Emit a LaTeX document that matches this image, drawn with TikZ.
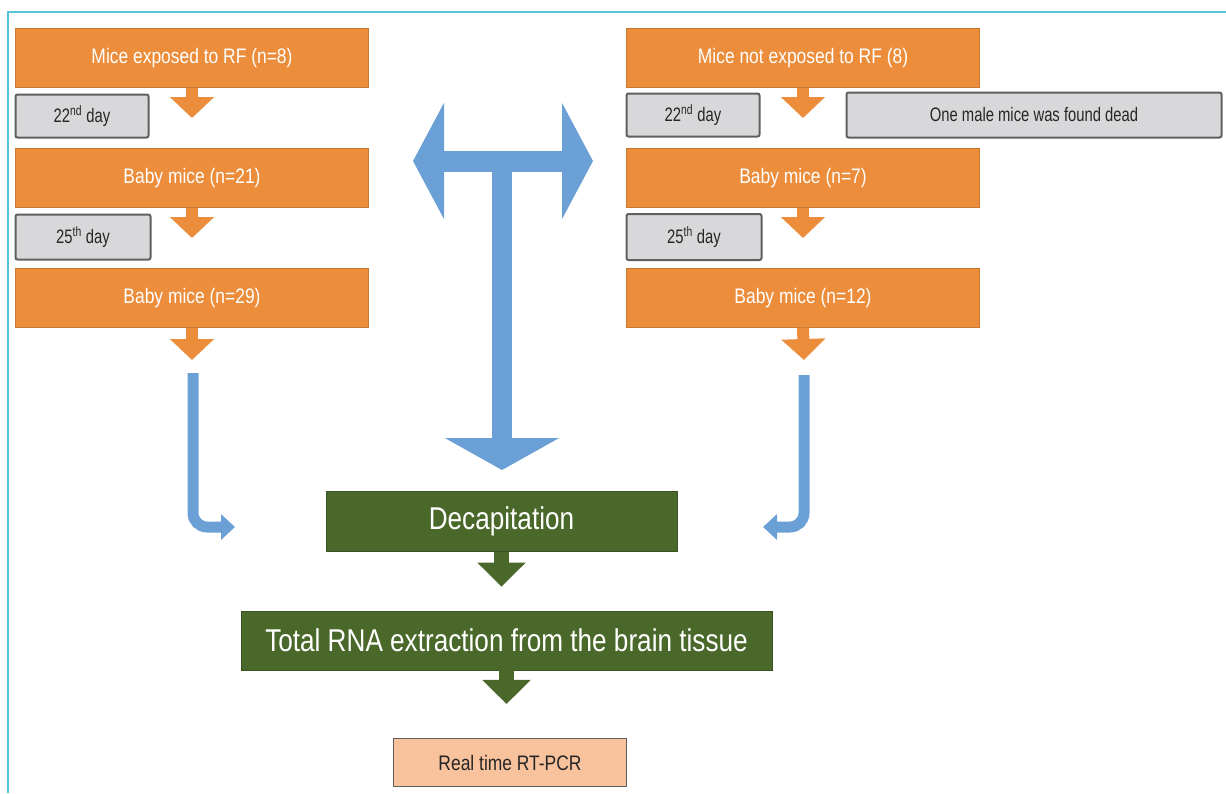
\documentclass[tikz,border=0pt]{standalone}
\usepackage{fontspec}
\setmainfont{Liberation Sans}
\newfontfamily\boxfont[FakeStretch=0.83]{Liberation Sans}
\newfontfamily\dayfont[FakeStretch=0.76]{Liberation Sans}
\usetikzlibrary{arrows.meta, calc}

\definecolor{boxorange}{RGB}{236,141,59}
\definecolor{boxgray}{RGB}{216,216,218}
\definecolor{boxedge}{RGB}{95,95,95}
\definecolor{stepgreen}{RGB}{74,104,42}
\definecolor{arrowblue}{RGB}{106,160,214}
\definecolor{pcrpeach}{RGB}{248,194,156}
\definecolor{framecyan}{RGB}{84,197,214}

\begin{document}
\begin{tikzpicture}[x=1pt, y=-1pt,
  exposed/.style={rectangle, fill=boxorange, draw=boxorange!85!black, inner sep=0pt, minimum width=353pt, minimum height=59pt, text=white, font=\boxfont\fontsize{21}{25}\selectfont},
  daybox/.style={rectangle, rounded corners=2pt, fill=boxgray, draw=boxedge, line width=2pt, inner sep=0pt, minimum height=43pt, text=black!85, font=\dayfont\fontsize{19.5}{23}\selectfont},
  stage/.style={rectangle, fill=stepgreen, draw=stepgreen!80!black, inner sep=0pt, minimum height=60pt, text=white, font=\boxfont\fontsize{31.5}{37}\selectfont},
  pcrbox/.style={rectangle, fill=pcrpeach, draw=boxedge, line width=1.5pt, inner sep=0pt, minimum width=233pt, minimum height=48pt, text=black!85, font=\boxfont\fontsize{21}{25}\selectfont},
  orangetip/.style={draw=boxorange, line width=12pt, -{Triangle[width=43pt, length=21pt, fill=boxorange]}},
  greentip/.style={draw=stepgreen, line width=15pt, -{Triangle[width=47pt, length=24pt, fill=stepgreen]}},
  bluebend/.style={draw=arrowblue, line width=11pt, rounded corners=14pt, -{Triangle[width=25pt, length=14pt, fill=arrowblue]}}]

  \useasboundingbox (0,0) rectangle (1226,793);
  \draw[framecyan, line width=2pt] (8,793) -- (8,12) -- (1226,12);

  % exposed group
  \node[exposed] (exp1) at (192,58) {Mice exposed to RF (n=8)};
  \node[daybox, minimum width=133pt] (expd22) at (82,116) {22\textsuperscript{nd} day};
  \node[exposed] (exp2) at (192,178) {Baby mice (n=21)};
  \node[daybox, minimum width=135pt, minimum height=45pt] (expd25) at (83,237) {25\textsuperscript{th} day};
  \node[exposed] (exp3) at (192,298) {Baby mice (n=29)};
  \coordinate (expfoot) at (192,360);

  % control group
  \node[exposed] (ctl1) at (803,58) {Mice not exposed to RF (8)};
  \node[daybox, minimum width=133pt] (ctld22) at (693,115) {22\textsuperscript{nd} day};
  \node[daybox, minimum width=375pt, minimum height=45pt] (dead) at (1034,115) {One male mice was found dead};
  \node[exposed] (ctl2) at (803,178) {Baby mice (n=7)};
  \node[daybox, minimum width=135pt, minimum height=46pt] (ctld25) at (694,237) {25\textsuperscript{th} day};
  \node[exposed] (ctl3) at (803,298) {Baby mice (n=12)};
  \coordinate (ctlfoot) at (804,360);

  \draw[orangetip] (exp1.south) -- ($(exp1.south)!0.5!(exp2.north)$);
  \draw[orangetip] (exp2.south) -- ($(exp2.south)!0.5!(exp3.north)$);
  \draw[orangetip] (exp3.south) -- (expfoot);
  \draw[orangetip] (ctl1.south) -- ($(ctl1.south)!0.5!(ctl2.north)$);
  \draw[orangetip] (ctl2.south) -- ($(ctl2.south)!0.5!(ctl3.north)$);
  \draw[orangetip] (ctl3.south) -- (ctlfoot);

  % common steps
  \node[stage, minimum width=351pt] (dec) at (501.5,521.5) {Decapitation};
  \node[stage, minimum width=531pt, minimum height=59pt] (rna) at (506.5,640.5) {Total RNA extraction from the brain tissue};
  \node[pcrbox] (pcr) at (510,762.5) {Real time RT-PCR};

  \draw[greentip] (dec.south) -- ($(dec.south)!0.59!(dec.south |- rna.north)$);
  \draw[greentip] (rna.south) -- ($(rna.south)!0.5!(rna.south |- pcr.north)$);

  % blue arrows
  \coordinate (tleft) at (413,161);
  \coordinate (tright) at (593,161);
  \coordinate (tmid) at (502,161);
  \coordinate (tfoot) at (502,470);
  \draw[arrowblue, line width=21pt, {Triangle[width=115pt, length=31pt, fill=arrowblue]}-{Triangle[width=115pt, length=31pt, fill=arrowblue]}] (tleft) -- (tright);
  \draw[arrowblue, line width=20pt, -{Triangle[width=113pt, length=32pt, fill=arrowblue]}] (tmid) -- (tfoot);

  \coordinate (expbend) at (193,373);
  \coordinate (expin) at (235,527);
  \coordinate (ctlbend) at (804,375);
  \coordinate (ctlin) at (763,527);
  \draw[bluebend] (expbend) |- (expin);
  \draw[bluebend] (ctlbend) |- (ctlin);
\end{tikzpicture}
\end{document}
